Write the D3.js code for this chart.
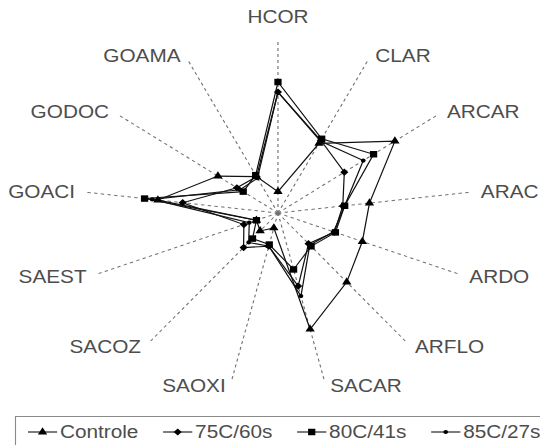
<!DOCTYPE html>
<html>
<head>
<meta charset="utf-8">
<script src="https://cdn.jsdelivr.net/npm/d3@7"></script>
<style>
  body { margin: 0; background: #fff; }
  text { font-family: "Liberation Sans", Arial, sans-serif; fill: #4d4d4d; }
</style>
</head>
<body>
<svg class="radar-svg" width="540" height="445"></svg>
<script>
// axes, clockwise from the top
const axes = ['HCOR', 'CLAR', 'ARCAR', 'ARAC', 'ARDO', 'ARFLO', 'SACAR', 'SAOXI', 'SACOZ', 'SAEST', 'GOACI', 'GODOC', 'GOAMA']
const seriesNames = ['Controle', '75C/60s', '80C/41s', '85C/27s']

const controle = [1.25, 4.6, 7.4, 4.8, 4.7, 5.4, 7.0, 0.9, 1.4, 1.2, 6.3, 3.8, 2.4]
const t75c60s = [7.07, 4.8, 4.2, 3.4, 3.15, 2.4, 4.4, 2.0, 2.7, 1.9, 5.0, 2.6, 2.4]
const t80c41s = [7.66, 4.9, 6.05, 3.5, 3.2, 2.6, 3.4, 1.9, 2.0, 1.2, 7.0, 2.2, 2.5]
const t85c27s = [7.07, 4.75, 5.4, 3.5, 3.1, 2.5, 5.0, 2.0, 2.3, 1.6, 6.6, 2.4, 2.3]

const series = [controle, t75c60s, t80c41s, t85c27s]
const maxValue = 10

// the original picture is stretched sideways, so draw in a narrower viewBox
var svg = d3.select('.radar-svg')
  .attr('viewBox', '0 0 481 445')
  .attr('preserveAspectRatio', 'none')

var cx = 247.6, cy = 213
var radius = 171

const rScale = d3.scaleLinear().domain([0, maxValue]).range([0, radius])
const aScale = d3.scaleLinear().domain([0, axes.length]).range([0, 2 * Math.PI])

// marker for each series
const symbols = [
  d3.symbol().type(d3.symbolTriangle).size(30),
  d3.symbol().type(d3.symbolSquare).size(26),
  d3.symbol().type(d3.symbolSquare).size(42),
  d3.symbol().type(d3.symbolCircle).size(14)
]
const rotations = [0, 45, 0, 0]

var g = svg.append('g').attr('transform', 'translate(' + cx + ',' + cy + ')')

// dashed spokes
axes.forEach(function (name, i) {
  var end = d3.pointRadial(aScale(i), rScale(maxValue))
  g.append('line')
    .attr('x1', 0).attr('y1', 0)
    .attr('x2', end[0]).attr('y2', end[1])
    .attr('stroke', '#707070')
    .attr('stroke-width', 1)
    .attr('stroke-dasharray', '3,3')
})

// axis labels
axes.forEach(function (name, i) {
  var a = aScale(i)
  var p = d3.pointRadial(a, 178)
  var s = Math.sin(a)
  var anchor = Math.abs(s) < 0.1 ? 'middle' : (s > 0 ? 'start' : 'end')
  var x = anchor == 'middle' ? p[0] : p[0] + (s > 0 ? 4 : -4)
  var y = anchor == 'middle' ? -196.5 : p[1]
  g.append('text')
    .attr('x', x)
    .attr('y', y)
    .attr('dy', '0.35em')
    .attr('text-anchor', anchor)
    .style('font-size', '18.5px')
    .text(name)
})

// series lines
const line = d3.lineRadial()
  .angle(function (d, i) { return aScale(i) })
  .radius(function (d) { return rScale(d) })
  .curve(d3.curveLinearClosed)

series.forEach(function (values, k) {
  g.append('path')
    .datum(values)
    .attr('fill', 'none')
    .attr('stroke', '#111')
    .attr('stroke-width', 1.1)
    .attr('d', line)
})

// series markers
series.forEach(function (values, k) {
  g.selectAll('.mk' + k)
    .data(values)
    .enter()
    .append('path')
    .attr('class', 'mk' + k)
    .attr('d', symbols[k])
    .attr('fill', '#000')
    .attr('transform', function (d, i) {
      var p = d3.pointRadial(aScale(i), rScale(d))
      return 'translate(' + p[0] + ',' + p[1] + ') rotate(' + rotations[k] + ')'
    })
})

// legend
var legend = svg.append('g')
legend.append('rect')
  .attr('x', 13.8).attr('y', 416.5)
  .attr('width', 520).attr('height', 36)
  .attr('fill', 'none')
  .attr('stroke', '#8a8a8a')
  .attr('stroke-width', 1)

var lx = 24.9, ly = 432
seriesNames.forEach(function (name, k) {
  legend.append('line')
    .attr('x1', lx).attr('x2', lx + 26)
    .attr('y1', ly).attr('y2', ly)
    .attr('stroke', '#111').attr('stroke-width', 1.1)
  legend.append('path')
    .attr('d', symbols[k])
    .attr('fill', '#000')
    .attr('transform', 'translate(' + (lx + 13) + ',' + ly + ') rotate(' + rotations[k] + ')')
  var t = legend.append('text')
    .attr('x', lx + 28.5)
    .attr('y', ly)
    .attr('dy', '0.35em')
    .style('font-size', '18.5px')
    .text(name)
  lx = lx + 28.5 + t.node().getComputedTextLength() + 22
})
</script>
</body>
</html>
